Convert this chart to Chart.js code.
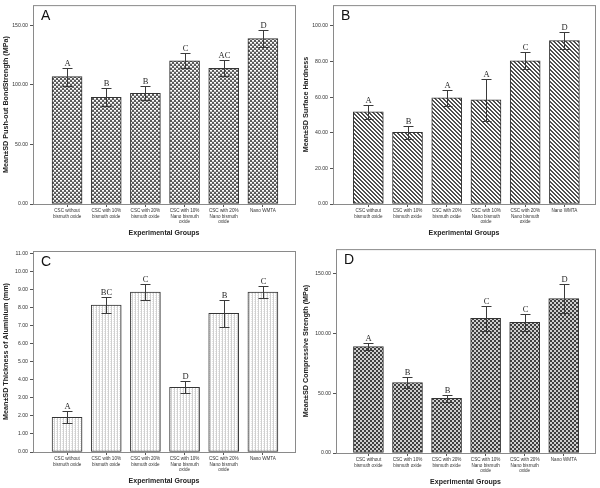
<!DOCTYPE html>
<html>
<head>
<meta charset="utf-8">
<script src="https://cdn.jsdelivr.net/npm/chart.js@4.4.1/dist/chart.umd.min.js"></script>
<style>
  body { margin: 0; background: #fff; }
  .wrap { position: relative; width: 600px; height: 488px; }
  canvas { position: absolute; }
</style>
</head>
<body>
<div class="wrap">
  <canvas id="cA" width="300" height="244" style="left:0;top:0"></canvas>
  <canvas id="cB" width="300" height="244" style="left:300px;top:0"></canvas>
  <canvas id="cC" width="300" height="244" style="left:0;top:244px"></canvas>
  <canvas id="cD" width="300" height="244" style="left:300px;top:244px"></canvas>
</div>
<script>
// groups on the x axis (same for all four panels)
const groups = [
  ["CSC without", "bismuth oxide"],
  ["CSC with 10%", "bismuth oxide"],
  ["CSC with 20%", "bismuth oxide"],
  ["CSC with 10%", "Nano bismuth", "oxide"],
  ["CSC with 20%", "Nano bismuth", "oxide"],
  ["Nano WMTA"]
];

// A - push-out bond strength
const bondMean = [107, 89.5, 93, 120.3, 114, 139];
const bondSD = [7.5, 7.5, 6, 6.5, 6.5, 7];
const bondLetters = ["A", "B", "B", "C", "AC", "D"];

// B - surface hardness
const hardMean = [51.8, 40.2, 59.6, 58.5, 80.4, 91.8];
const hardSD = [4, 3.7, 4.7, 11.9, 4.8, 4.7];
const hardLetters = ["A", "B", "A", "A", "C", "D"];

// C - radiopacity, thickness of aluminium
const alMean = [1.93, 8.15, 8.87, 3.59, 7.69, 8.87];
const alSD = [0.33, 0.43, 0.46, 0.33, 0.74, 0.32];
const alLetters = ["A", "BC", "C", "D", "B", "C"];

// D - compressive strength
const compMean = [88.9, 58.9, 45.6, 112.5, 109.2, 128.9];
const compSD = [2.8, 4.7, 3, 10.3, 7, 12.2];
const compLetters = ["A", "B", "B", "C", "C", "D"];

const SANS = '"Liberation Sans", Arial, sans-serif';
const SERIF = '"Liberation Serif", "Times New Roman", serif';

// little tiles for the hatch fills
function tile(w, h, draw) {
  const c = document.createElement('canvas');
  c.width = w; c.height = h;
  const g = c.getContext('2d');
  draw(g);
  return g.createPattern(c, 'repeat');
}
// dark mesh with white dots
const patA = tile(4, 4, g => {
  g.fillStyle = '#5a5a5a'; g.fillRect(0, 0, 4, 4);
  g.fillStyle = '#ffffff';
  g.fillRect(0, 0, 2, 1);
  g.fillRect(2, 2, 2, 1);
  g.fillStyle = '#c8c8c8';
  g.fillRect(0, 1, 2, 1);
  g.fillRect(2, 3, 2, 1);
});
// diagonal lines
const patB = tile(4, 4, g => {
  g.fillStyle = '#ffffff'; g.fillRect(0, 0, 4, 4);
  g.fillStyle = '#505050';
  for (let y = 0; y < 4; y++) {
    g.fillRect(y % 4, y, 1, 1);
    g.fillRect((y + 1) % 4, y, 1, 1);
  }
});
// light dotted vertical lines
const patC = tile(3, 2, g => {
  g.fillStyle = '#ffffff'; g.fillRect(0, 0, 3, 2);
  g.fillStyle = '#d0d0d0'; g.fillRect(0, 0, 1, 2);
  g.fillStyle = '#e6e6e6'; g.fillRect(2, 1, 1, 1);
});
// checkerboard
const patD = tile(4, 4, g => {
  g.fillStyle = '#404040'; g.fillRect(0, 0, 4, 4);
  g.fillStyle = '#d0d0d0';
  g.fillRect(0, 0, 2, 2);
  g.fillRect(2, 2, 2, 2);
});

const panels = [
  { id: 'cA', tag: 'A', mean: bondMean, sd: bondSD, letters: bondLetters, fill: patA,
    yTitle: 'Mean\u00b1SD Push-out BondStrength (MPa)', yMax: 167, yStep: 50,
    left: 33, top: 3, bottom: 204, xMin: -0.87, xMax: 5.82 },
  { id: 'cB', tag: 'B', mean: hardMean, sd: hardSD, letters: hardLetters, fill: patB,
    yTitle: 'Mean\u00b1SD Surface Hardness', yMax: 111.7, yStep: 20,
    left: 33, top: 3, bottom: 204, xMin: -0.9, xMax: 5.78 },
  { id: 'cC', tag: 'C', mean: alMean, sd: alSD, letters: alLetters, fill: patC,
    yTitle: 'Mean\u00b1SD Thickness of Aluminium (mm)', yMax: 11.15, yStep: 1,
    left: 33, top: 7, bottom: 208, xMin: -0.87, xMax: 5.82 },
  { id: 'cD', tag: 'D', mean: compMean, sd: compSD, letters: compLetters, fill: patD,
    yTitle: 'Mean\u00b1SD Compressive Strength (MPa)', yMax: 170.3, yStep: 50,
    left: 36, top: 5, bottom: 209, xMin: -0.83, xMax: 5.8 }
];

// box, error bars, group letters and panel tag
const extras = {
  id: 'extras',
  afterDatasetsDraw(chart, args, opts) {
    const p = opts.panel;
    const { ctx, chartArea: a, scales: { x, y } } = chart;
    ctx.save();
    ctx.strokeStyle = '#8a8a8a';
    ctx.lineWidth = 1;
    ctx.strokeRect(a.left + 0.5, a.top + 0.5, a.right - a.left, a.bottom - a.top);

    ctx.strokeStyle = '#3a3a3a';
    ctx.fillStyle = '#2a2a2a';
    ctx.font = '8.5px ' + SERIF;
    ctx.textAlign = 'center';
    for (let i = 0; i < p.mean.length; i++) {
      const cx = Math.round(x.getPixelForValue(i)) + 0.5;
      const hi = Math.round(y.getPixelForValue(p.mean[i] + p.sd[i])) + 0.5;
      const lo = Math.round(y.getPixelForValue(p.mean[i] - p.sd[i])) + 0.5;
      ctx.beginPath();
      ctx.moveTo(cx, hi); ctx.lineTo(cx, lo);
      ctx.moveTo(cx - 5, hi); ctx.lineTo(cx + 5, hi);
      ctx.moveTo(cx - 5, lo); ctx.lineTo(cx + 5, lo);
      ctx.stroke();
      ctx.fillText(p.letters[i], cx, hi - 3);
    }

    ctx.fillStyle = '#111';
    ctx.textAlign = 'left';
    ctx.font = '14px ' + SANS;
    ctx.fillText(p.tag, a.left + 8, a.top + 15);
    ctx.restore();
  }
};

panels.forEach(p => {
  new Chart(document.getElementById(p.id), {
    type: 'bar',
    data: {
      datasets: [{
        data: p.mean.map((v, i) => ({ x: i, y: v })),
        backgroundColor: p.fill,
        borderColor: '#333',
        borderWidth: 1,
        borderSkipped: false,
        barThickness: 30
      }]
    },
    options: {
      responsive: false,
      animation: false,
      devicePixelRatio: 1,
      layout: { padding: { top: p.top, right: 5, left: 0, bottom: 0 } },
      plugins: {
        legend: { display: false },
        tooltip: { enabled: false },
        extras: { panel: p }
      },
      scales: {
        x: {
          type: 'linear',
          offset: false,
          min: p.xMin,
          max: p.xMax,
          afterFit: s => { s.height = 244 - p.bottom; },
          border: { display: false },
          grid: { display: true, offset: false, drawOnChartArea: false, tickLength: 3, color: '#555' },
          ticks: {
            stepSize: 1,
            includeBounds: false,
            autoSkip: false,
            maxRotation: 0,
            padding: 1,
            color: '#333',
            font: { family: SANS, size: 4.6, lineHeight: 1.2 },
            callback: v => groups[v] || ''
          },
          title: {
            display: true,
            text: 'Experimental Groups',
            color: '#222',
            font: { family: SANS, size: 7, weight: 'bold', lineHeight: 1.2 },
            padding: { top: 0, bottom: (244 - p.bottom) - 29 - 4.2 }
          }
        },
        y: {
          min: 0,
          max: p.yMax,
          afterFit: s => { s.width = p.left; },
          border: { display: false },
          grid: { display: true, drawOnChartArea: false, tickLength: 3, color: '#555' },
          ticks: {
            stepSize: p.yStep,
            includeBounds: false,
            padding: 2,
            color: '#333',
            font: { family: SANS, size: 5.2 },
            callback: v => v.toFixed(2)
          },
          title: {
            display: true,
            text: p.yTitle,
            color: '#222',
            font: { family: SANS, size: 7.2, weight: 'bold', lineHeight: 1.2 },
            padding: { top: 1.5, bottom: 0 }
          }
        }
      }
    },
    plugins: [extras]
  });
});
</script>
</body>
</html>
